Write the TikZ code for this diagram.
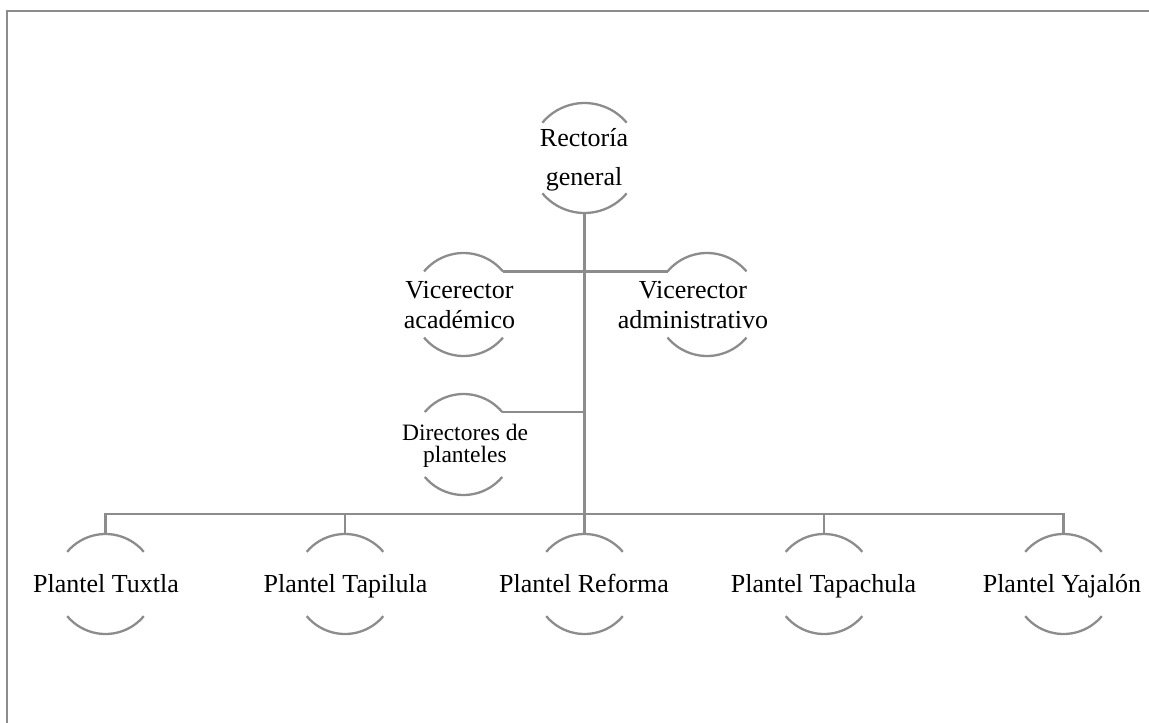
\documentclass[tikz,border=0pt]{standalone}
\usepackage{fontspec}
\setmainfont{Liberation Serif}
\definecolor{lg}{RGB}{140,140,140}
\begin{document}
\begin{tikzpicture}[x=1pt,y=-1pt,
  conn/.style={draw=lg, line width=2.7pt},
  arcl/.style={draw=lg, line width=2.3pt},
  ring/.style={circle, inner sep=0pt, outer sep=0pt, minimum size=#1},
  lbl/.style={align=center, inner sep=0pt, text=black},
  big/.style={font=\fontsize{26}{29.5}\selectfont}]
\useasboundingbox (0,0) rectangle (1149,723);
\draw[draw=lg, line width=2pt] (7,723) -- (7,10.8) -- (1149,10.8);
% rings
\node[ring=110] (rec) at (584.5,158) {};
\node[ring=103] (vac) at (463.5,304.5) {};
\node[ring=103] (vad) at (707,304.5) {};
\node[ring=101] (dir) at (463.5,444.5) {};
\node[ring=100] (p1) at (105.5,584) {};
\node[ring=100] (p2) at (345,584) {};
\node[ring=100] (p3) at (584.5,584) {};
\node[ring=100] (p4) at (824,584) {};
\node[ring=100] (p5) at (1063.5,584) {};
\foreach \n/\r in {rec/55,vac/51.5,vad/51.5,dir/50.5,p1/50,p2/50,p3/50,p4/50,p5/50}{
  \draw[arcl] (\n.40) arc[start angle=40,end angle=140,radius=\r pt];
  \draw[arcl] (\n.-40) arc[start angle=-40,end angle=-140,radius=\r pt];
}
% connectors
\coordinate (bar) at (584.5,514);
\draw[conn] (rec.south) -- (bar);
\draw[conn] (vac.40) -- (vac.40 -| rec.south) -- (vad.140);
\draw[conn] (dir.40) -- (dir.40 -| rec.south);
\draw[conn] (p1.north) |- (bar) -| (p5.north);
\draw[conn] (p2.north) -- (p2.north |- bar);
\draw[conn] (p3.north) -- (bar);
\draw[conn] (p4.north) -- (p4.north |- bar);
% texts
\node[lbl, font=\fontsize{26}{39.3}\selectfont] (trec) at (584,160) {Rectoría\\general};
\node[lbl, big] (tvac) at (459.5,305) {Vicerector\\académico};
\node[lbl, big] (tvad) at (693,305) {Vicerector\\administrativo};
\node[lbl, font=\fontsize{23.5}{22}\selectfont] (tdir) at (465,446) {Directores de\\planteles};
\node[lbl, big, anchor=base] (tp1) at (106,592) {Plantel Tuxtla};
\node[lbl, big, anchor=base] (tp2) at (345.5,592) {Plantel Tapilula};
\node[lbl, big, anchor=base] (tp3) at (584,592) {Plantel Reforma};
\node[lbl, big, anchor=base] (tp4) at (823.5,592) {Plantel Tapachula};
\node[lbl, big, anchor=base] (tp5) at (1062,592) {Plantel Yajalón};
\end{tikzpicture}
\end{document}
